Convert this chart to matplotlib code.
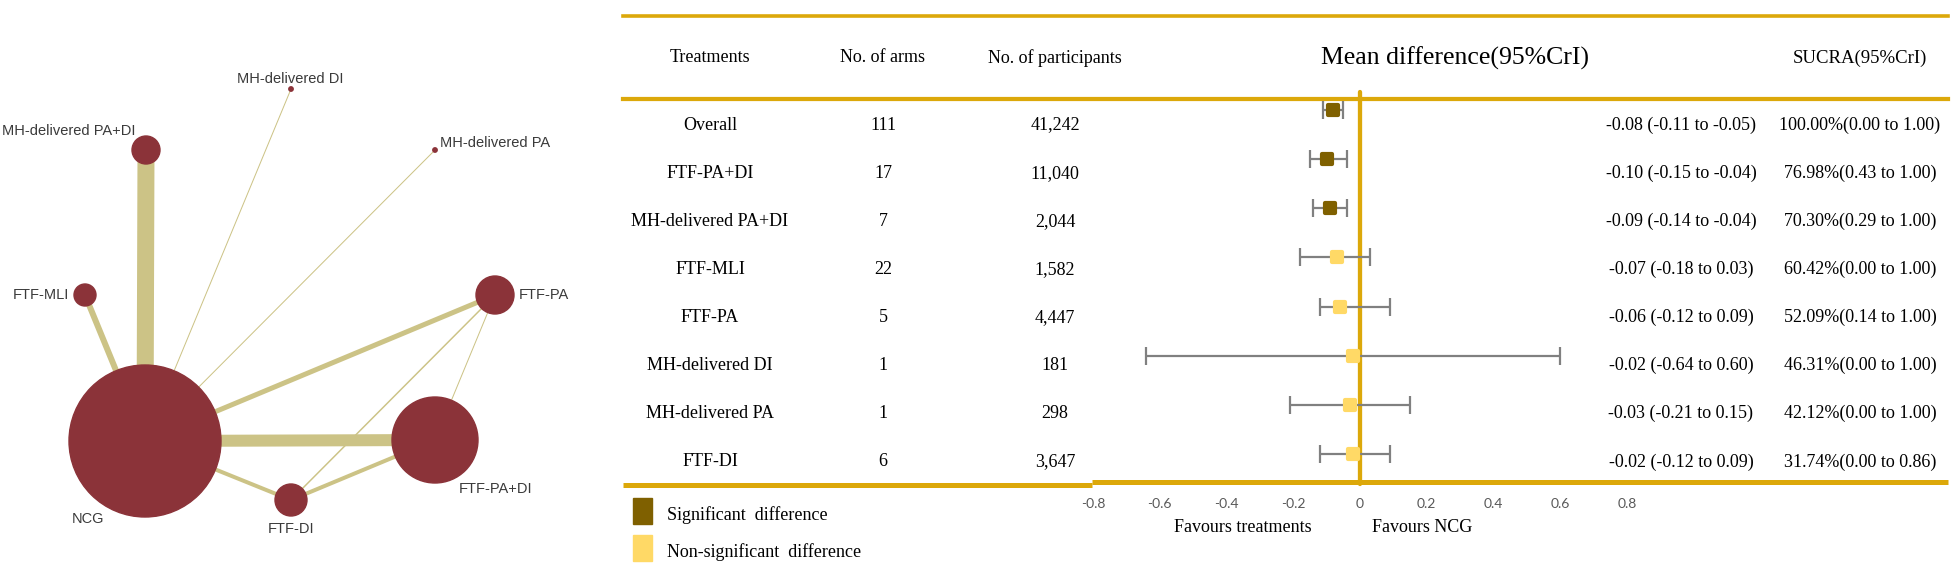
import numpy as np
import matplotlib
matplotlib.use('Agg')
from matplotlib import pyplot as plt
from matplotlib.patches import Circle, Rectangle
from matplotlib.markers import MarkerStyle

# ---- table / forest data ----
treatments = ['Overall', 'FTF-PA+DI', 'MH-delivered PA+DI', 'FTF-MLI', 'FTF-PA',
              'MH-delivered DI', 'MH-delivered PA', 'FTF-DI']
n_arms = [111, 17, 7, 22, 5, 1, 1, 6]
n_participants = [41242, 11040, 2044, 1582, 4447, 181, 298, 3647]
md = [-0.08, -0.10, -0.09, -0.07, -0.06, -0.02, -0.03, -0.02]
md_lo = [-0.11, -0.15, -0.14, -0.18, -0.12, -0.64, -0.21, -0.12]
md_hi = [-0.05, -0.04, -0.04, 0.03, 0.09, 0.60, 0.15, 0.09]
sucra = [100.00, 76.98, 70.30, 60.42, 52.09, 46.31, 42.12, 31.74]
sucra_lo = [0.00, 0.43, 0.29, 0.00, 0.14, 0.00, 0.00, 0.00]
sucra_hi = [1.00, 1.00, 1.00, 1.00, 1.00, 1.00, 1.00, 0.86]
significant = [True, True, True, False, False, False, False, False]
xticks = [-0.8, -0.6, -0.4, -0.2, 0, 0.2, 0.4, 0.6, 0.8]

# ---- network data ----
nodes = ['NCG', 'FTF-PA+DI', 'FTF-DI', 'FTF-PA', 'FTF-MLI',
         'MH-delivered PA+DI', 'MH-delivered DI', 'MH-delivered PA']
node_weight = [76, 43, 16, 19, 11, 14, 2.2, 2.2]
edges = [('NCG', 'MH-delivered PA+DI', 17), ('NCG', 'FTF-PA+DI', 12),
         ('NCG', 'FTF-MLI', 6), ('NCG', 'FTF-PA', 5), ('NCG', 'FTF-DI', 4),
         ('FTF-DI', 'FTF-PA+DI', 4), ('FTF-DI', 'FTF-PA', 1.5),
         ('FTF-PA', 'FTF-PA+DI', 1), ('NCG', 'MH-delivered DI', 1),
         ('NCG', 'MH-delivered PA', 1)]

# layout of the network (pixel space of the left panel)
layout = {'NCG': (145, 441), 'FTF-PA+DI': (435, 440), 'FTF-DI': (291, 500),
          'FTF-PA': (495, 295), 'FTF-MLI': (85, 295), 'MH-delivered PA+DI': (146, 150),
          'MH-delivered DI': (291, 89), 'MH-delivered PA': (435, 150)}
label_pos = {'NCG': (88, 519, 'center'), 'FTF-PA+DI': (459, 489, 'left'),
             'FTF-DI': (291, 529, 'center'), 'FTF-PA': (519, 295, 'left'),
             'FTF-MLI': (69, 295, 'right'), 'MH-delivered PA+DI': (136, 131, 'right'),
             'MH-delivered DI': (290, 79, 'center'), 'MH-delivered PA': (440, 143, 'left')}

GOLD = '#DCA80A'
DARK = '#7F6000'
LIGHT = '#FFD966'
NODE = '#8B3339'
EDGE = '#CCC386'
PX = 0.72  # pixels -> points at dpi 100
serif = 'Liberation Serif'

fig = plt.figure(figsize=(19.52, 5.64), dpi=100, facecolor='w')

# ---------------- network panel ----------------
ax_net = fig.add_axes([0, 0, 620 / 1952, 1])
ax_net.set_xlim(0, 620)
ax_net.set_ylim(564, 0)
ax_net.axis('off')
for a, b, w in edges:
    (x0, y0), (x1, y1) = layout[a], layout[b]
    ax_net.plot([x0, x1], [y0, y1], color=EDGE, lw=w * PX, solid_capstyle='butt', zorder=1)
for name, r in zip(nodes, node_weight):
    ax_net.add_patch(Circle(layout[name], r, color=NODE, zorder=2))
    lx, ly, ha = label_pos[name]
    ax_net.text(lx, ly, name, ha=ha, va='center', fontsize=10.5,
                family='Liberation Sans', color='#3a3a3a')

# ---------------- table (pixel overlay) ----------------
ax_tab = fig.add_axes([0, 0, 1, 1], facecolor='none')
ax_tab.set_xlim(0, 1952)
ax_tab.set_ylim(564, 0)
ax_tab.axis('off')

x_left, x_right = 623, 1948
ax_tab.plot([x_left, x_right], [16, 16], color=GOLD, lw=3.6 * PX)
ax_tab.plot([x_left, x_right], [99, 99], color=GOLD, lw=4.2 * PX)
ax_tab.plot([x_left, 1092], [484.5, 484.5], color=GOLD, lw=5 * PX, solid_capstyle='butt')
ax_tab.plot([1092, x_right], [482, 482], color=GOLD, lw=5 * PX, solid_capstyle='butt')

col_x = [710, 883, 1055]
headers = ['Treatments', 'No. of arms', 'No. of participants']
for cx, h in zip(col_x, headers):
    ax_tab.text(cx, 58, h, ha='center', va='center', fontsize=13, family=serif)
ax_tab.text(1455, 58, 'Mean difference(95%CrI)', ha='center', va='center',
            fontsize=18.5, family=serif)
ax_tab.text(1860, 58, 'SUCRA(95%CrI)', ha='center', va='center', fontsize=13.5, family=serif)

for i, t in enumerate(treatments):
    y = 125 + 48.14 * i
    ax_tab.text(col_x[0], y, t, ha='center', va='center', fontsize=13, family=serif)
    ax_tab.text(col_x[1], y, str(n_arms[i]), ha='center', va='center', fontsize=13, family=serif)
    ax_tab.text(col_x[2], y, f'{n_participants[i]:,}', ha='center', va='center',
                fontsize=13, family=serif)
    ax_tab.text(1681, y, f'{md[i]:.2f} ({md_lo[i]:.2f} to {md_hi[i]:.2f})',
                ha='center', va='center', fontsize=13, family=serif)
    ax_tab.text(1860, y, f'{sucra[i]:.2f}%({sucra_lo[i]:.2f} to {sucra_hi[i]:.2f})',
                ha='center', va='center', fontsize=13, family=serif)

# legend
ax_tab.add_patch(Rectangle((633, 498), 19, 26, color=DARK))
ax_tab.add_patch(Rectangle((633, 535), 19, 26, color=LIGHT))
ax_tab.text(667, 515, 'Significant  difference', ha='left', va='center', fontsize=13, family=serif)
ax_tab.text(667, 552, 'Non-significant  difference', ha='left', va='center', fontsize=13, family=serif)

ax_tab.text(1243, 528, 'Favours treatments', ha='center', va='center', fontsize=13, family=serif)
ax_tab.text(1372, 528, 'Favours NCG', ha='left', va='center', fontsize=13, family=serif)

# ---------------- forest plot ----------------
f_left, f_right, f_top, f_bot = 1093, 1627, 92, 484
ax_for = fig.add_axes([f_left / 1952, (564 - f_bot) / 564,
                       (f_right - f_left) / 1952, (f_bot - f_top) / 564], facecolor='none')
ax_for.set_xlim(-0.8, 0.8)
row0, step = 110, 49.14
ax_for.set_ylim((f_bot - row0) / step, (f_top - row0) / step)
for s in ax_for.spines.values():
    s.set_visible(False)
ax_for.set_yticks([])
ax_for.set_xticks(xticks)
ax_for.set_xticklabels([('%g' % v) for v in xticks], family='Lato', fontsize=10, color='#595959')
ax_for.tick_params(axis='x', length=0, pad=10)
ax_for.plot([0, 0], [(f_bot - row0) / step, (f_top - row0) / step], color=GOLD,
            lw=4.3 * PX, solid_capstyle='round', zorder=1, clip_on=False)

sq = MarkerStyle('s', joinstyle='round')
for i in range(len(treatments)):
    ax_for.errorbar(md[i], i, xerr=[[md[i] - md_lo[i]], [md_hi[i] - md[i]]], fmt='none',
                    ecolor='#808080', elinewidth=1.6, capsize=6.5, capthick=1.6, zorder=2)
    c = DARK if significant[i] else LIGHT
    ax_for.plot(md[i], i, marker=sq, ms=7, mfc=c, mec=c, mew=3, ls='none', zorder=3)

plt.savefig('out.png', dpi=100, facecolor='w')
